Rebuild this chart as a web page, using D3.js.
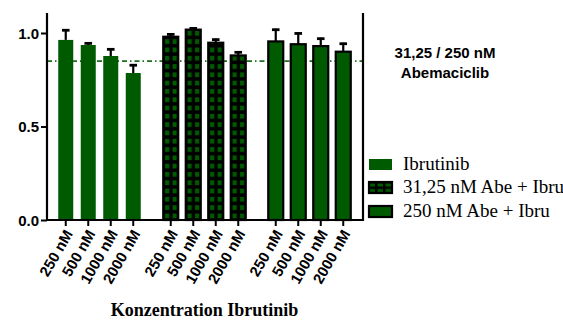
<!DOCTYPE html>
<html>
<head>
<meta charset="utf-8">
<script src="https://cdn.jsdelivr.net/npm/d3@7"></script>
<style>
  html, body { margin: 0; padding: 0; background: #fff; }
  svg { display: block; }
</style>
</head>
<body>
<svg id="chart" width="563" height="320"></svg>
<script>
// Ibrutinib concentrations (x categories within each group)
const concentrations = ["250 nM", "500 nM", "1000 nM", "2000 nM"];
// Treatment groups
const groups = ["Ibrutinib", "31,25 nM Abe + Ibru", "250 nM Abe + Ibru"];
// Mean relative viability per group
const meanIbru   = [0.963, 0.936, 0.877, 0.786];
const meanAbe31  = [0.980, 1.018, 0.948, 0.880];
const meanAbe250 = [0.955, 0.940, 0.930, 0.900];
// Upper error (SD) per group
const errIbru    = [0.057, 0.014, 0.041, 0.047];
const errAbe31   = [0.018, 0.012, 0.022, 0.022];
const errAbe250  = [0.068, 0.063, 0.045, 0.048];
// Reference level (dashed line)
const refLevel = 0.85;
const yTicks = [0.0, 0.5, 1.0];

const means = [meanIbru, meanAbe31, meanAbe250];
const errs = [errIbru, errAbe31, errAbe250];
const data = [];
groups.forEach((g, gi) => concentrations.forEach((c, ci) => {
  data.push({ group: g, gi, conc: c, mean: means[gi][ci], err: errs[gi][ci] });
}));

const green = "#005a00";
const svg = d3.select("#chart");

const plotLeft = 47, plotRight = 362, plotTop = 13, plotBottom = 220;

const x0 = d3.scaleBand().domain(groups).range([plotLeft, plotRight])
  .paddingInner(15 / 105).paddingOuter(15 / 210);
const x1 = d3.scaleBand().domain(concentrations).range([0, x0.bandwidth()])
  .paddingInner(1 / 3).paddingOuter(1 / 6);
const y = d3.scaleLinear().domain([0, (plotBottom - plotTop) / 187]).range([plotBottom, plotTop]);

// Checkered fill for the 31,25 nM group
const defs = svg.append("defs");
const firstX = x0(groups[1]) + x1(concentrations[0]);
const pat = defs.append("pattern").attr("id", "checks")
  .attr("patternUnits", "userSpaceOnUse")
  .attr("x", firstX).attr("y", plotBottom)
  .attr("width", x1.step() / 3).attr("height", 8.3);
pat.append("rect").attr("width", x1.step() / 3).attr("height", 8.3).attr("fill", "#000");
pat.append("rect").attr("x", 1.8).attr("y", 1.8).attr("width", 4.2).attr("height", 4.8).attr("fill", green);

const pat2 = defs.append("pattern").attr("id", "checksLegend")
  .attr("patternUnits", "userSpaceOnUse")
  .attr("x", 368).attr("y", 182)
  .attr("width", 8).attr("height", 5.5);
pat2.append("rect").attr("width", 8).attr("height", 5.5).attr("fill", "#000");
pat2.append("rect").attr("x", 1.5).attr("y", 1.5).attr("width", 5.5).attr("height", 3).attr("fill", green);

// Reference line (behind bars)
svg.append("line")
  .attr("x1", plotLeft).attr("x2", plotRight)
  .attr("y1", y(refLevel)).attr("y2", y(refLevel))
  .attr("stroke", "#1f6f1f").attr("stroke-width", 1.8)
  .attr("stroke-dasharray", "5,3,1.5,3");

// Bars
const bw = x1.bandwidth();
const barG = svg.append("g");
data.forEach(d => {
  const bx = x0(d.group) + x1(d.conc);
  const cx = bx + bw / 2;
  // error bar (upper only)
  barG.append("line")
    .attr("x1", cx).attr("x2", cx)
    .attr("y1", y(d.mean)).attr("y2", y(d.mean + d.err))
    .attr("stroke", "#000").attr("stroke-width", 2.2);
  barG.append("line")
    .attr("x1", cx - 3.8).attr("x2", cx + 3.8)
    .attr("y1", y(d.mean + d.err) + 1).attr("y2", y(d.mean + d.err) + 1)
    .attr("stroke", "#000").attr("stroke-width", 2.8);
  const r = barG.append("rect")
    .attr("x", bx).attr("width", bw)
    .attr("y", y(d.mean)).attr("height", y(0) - y(d.mean));
  if (d.gi === 0) {
    r.attr("fill", green);
  } else {
    r.attr("fill", d.gi === 1 ? "url(#checks)" : green)
      .attr("stroke", "#000").attr("stroke-width", 2.2);
  }
});

// Axes
const yAxis = d3.axisLeft(y).tickValues(yTicks).tickFormat(d3.format(".1f"))
  .tickSize(6).tickSizeOuter(0);
const gy = svg.append("g").attr("transform", `translate(${plotLeft},0)`).call(yAxis);
gy.select(".domain").attr("stroke-width", 2.2).attr("d", `M0,${plotBottom}V${plotTop}`);
gy.selectAll(".tick line").attr("stroke-width", 2);
gy.selectAll(".tick text")
  .attr("font-family", "Liberation Sans, Arial, sans-serif")
  .attr("font-weight", "bold").attr("font-size", 15).attr("fill", "#000")
  .attr("x", -8).attr("dy", "0.36em");

// x axis line and right frame line
svg.append("line").attr("x1", plotLeft - 1).attr("x2", plotRight + 1)
  .attr("y1", plotBottom).attr("y2", plotBottom)
  .attr("stroke", "#000").attr("stroke-width", 2.2);
svg.append("line").attr("x1", plotRight + 1).attr("x2", plotRight + 1)
  .attr("y1", plotTop).attr("y2", plotBottom + 1)
  .attr("stroke", "#000").attr("stroke-width", 2.2);

// x ticks and rotated labels
const xg = svg.append("g");
data.forEach(d => {
  const cx = x0(d.group) + x1(d.conc) + bw / 2;
  xg.append("line").attr("x1", cx).attr("x2", cx)
    .attr("y1", plotBottom).attr("y2", plotBottom + 6)
    .attr("stroke", "#000").attr("stroke-width", 2);
  xg.append("text")
    .attr("transform", `translate(${cx + 3},${plotBottom + 11}) rotate(-60)`)
    .attr("text-anchor", "end")
    .attr("font-family", "Liberation Sans, Arial, sans-serif")
    .attr("font-weight", "bold").attr("font-size", 15)
    .attr("dy", "0.35em")
    .text(d.conc);
});

// Axis title
svg.append("text")
  .attr("x", (plotLeft + plotRight) / 2).attr("y", 316)
  .attr("text-anchor", "middle")
  .attr("font-family", "Liberation Serif, Times New Roman, serif")
  .attr("font-weight", "bold").attr("font-size", 18)
  .text("Konzentration Ibrutinib");

// Side title
const st = svg.append("text")
  .attr("text-anchor", "middle")
  .attr("font-family", "Liberation Sans, Arial, sans-serif")
  .attr("font-weight", "bold").attr("font-size", 15);
st.append("tspan").attr("x", 445).attr("y", 58).text("31,25 / 250 nM");
st.append("tspan").attr("x", 445).attr("y", 78).text("Abemaciclib");

// Legend
const legendRows = [
  { label: groups[0], y: 159, fill: green, stroke: null },
  { label: groups[1], y: 182, fill: "url(#checksLegend)", stroke: "#000" },
  { label: groups[2], y: 206, fill: green, stroke: "#000" }
];
legendRows.forEach(r => {
  const rect = svg.append("rect")
    .attr("x", 369).attr("y", r.y).attr("width", 23).attr("height", 11)
    .attr("fill", r.fill);
  if (r.stroke) rect.attr("stroke", r.stroke).attr("stroke-width", 2.2);
  svg.append("text")
    .attr("x", 403).attr("y", r.y + 11)
    .attr("font-family", "Liberation Serif, Times New Roman, serif")
    .attr("font-size", 19)
    .text(r.label);
});
</script>
</body>
</html>
